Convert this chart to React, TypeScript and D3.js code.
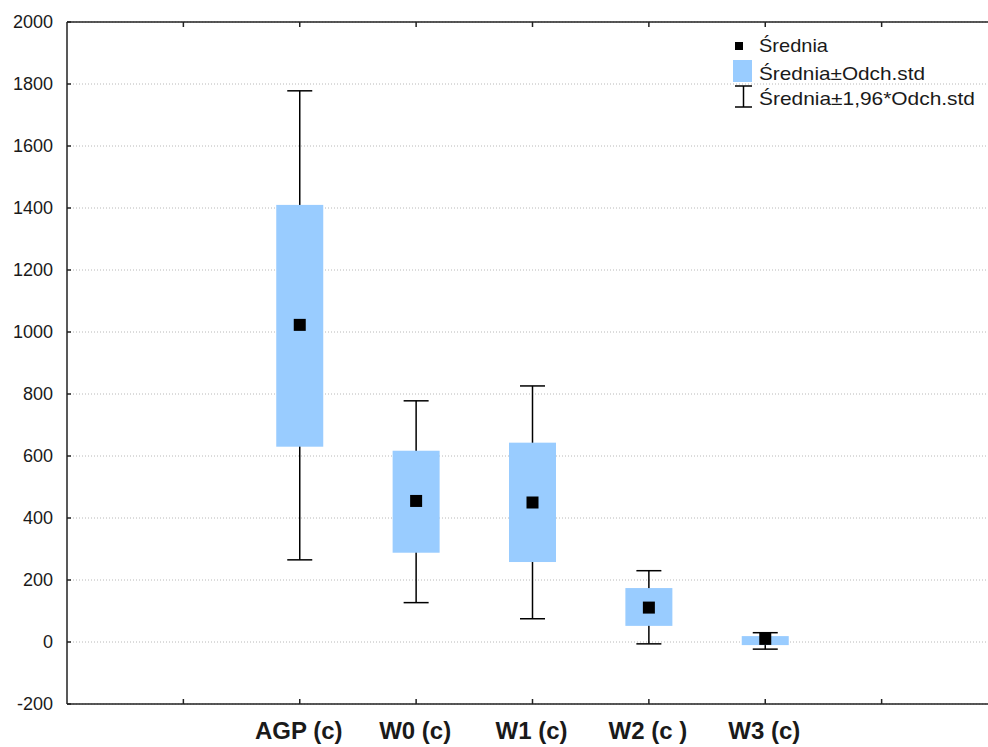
import React from 'react';
import * as d3 from 'd3';

// group labels and the statistics
const categories = ['AGP (c)', 'W0 (c)', 'W1 (c)', 'W2 (c )', 'W3 (c)'];
const means = [1023, 455, 450, 111, 10];
const sdLow = [630, 288, 258, 52, -10];
const sdHigh = [1410, 617, 643, 174, 19];
const ciLow = [265, 127, 75, -6, -23];
const ciHigh = [1778, 778, 826, 230, 30];
const yTicks = [-200, 0, 200, 400, 600, 800, 1000, 1200, 1400, 1600, 1800, 2000];
const xTickSlots = [1, 2, 3, 4, 5, 6, 7];
const legendLabels = ['Średnia', 'Średnia±Odch.std', 'Średnia±1,96*Odch.std'];
const legendWidths = [69, 166, 216];

const width = 988;
const height = 747;
const margin = { top: 22, right: -10, bottom: 43, left: 67 };
const font = '"Liberation Sans", Arial, sans-serif';

export default function App() {
  const x = d3.scaleLinear().domain([0, 8]).range([margin.left, width - margin.right]);
  const y = d3.scaleLinear().domain([-200, 2000]).range([height - margin.bottom, margin.top]);

  const boxW = 47;
  const capW = 25;
  const markSize = 12;
  const x0 = x(0);
  const x1 = x(8);
  const yTop = y(2000);
  const yBot = y(-200);

  return (
    <svg width={width} height={height} style={{ position: 'absolute', left: 0, top: 0, background: '#fff' }}
      fontFamily={font}>
      {/* grid */}
      {yTicks.map(t => (
        <line key={'g' + t} x1={x0} x2={x1} y1={y(t)} y2={y(t)} stroke="#b8b8b8" strokeWidth={1}
          strokeDasharray="1,2" />
      ))}

      {/* boxes and whiskers */}
      {categories.map((c, i) => {
        const cx = x(i + 2);
        return (
          <g key={c}>
            <line x1={cx} x2={cx} y1={y(ciHigh[i])} y2={y(ciLow[i])} stroke="#000" strokeWidth={1.5} />
            <line x1={cx - capW / 2} x2={cx + capW / 2} y1={y(ciHigh[i])} y2={y(ciHigh[i])} stroke="#000" strokeWidth={1.5} />
            <line x1={cx - capW / 2} x2={cx + capW / 2} y1={y(ciLow[i])} y2={y(ciLow[i])} stroke="#000" strokeWidth={1.5} />
            <rect x={cx - boxW / 2} width={boxW} y={y(sdHigh[i])} height={y(sdLow[i]) - y(sdHigh[i])} fill="#99ccff" />
            <rect x={cx - markSize / 2} y={y(means[i]) - markSize / 2} width={markSize} height={markSize} fill="#000" />
          </g>
        );
      })}

      {/* frame */}
      <line x1={x0} x2={x1} y1={yTop} y2={yTop} stroke="#222" strokeWidth={1.5} />
      <line x1={x0} x2={x1} y1={yBot} y2={yBot} stroke="#222" strokeWidth={1.5} />
      <line x1={x0} x2={x0} y1={yTop} y2={yBot} stroke="#222" strokeWidth={1.5} />

      {/* y axis */}
      {yTicks.map(t => (
        <g key={'y' + t}>
          <line x1={x0} x2={x0 + 4} y1={y(t)} y2={y(t)} stroke="#222" strokeWidth={1.5} />
          <text x={53} y={y(t)} dy="0.36em" textAnchor="end" fontSize={18} fill="#1a1a1a">{t}</text>
        </g>
      ))}

      {/* x ticks top and bottom */}
      {xTickSlots.map(s => (
        <g key={'x' + s}>
          <line x1={x(s)} x2={x(s)} y1={yBot} y2={yBot - 5} stroke="#222" strokeWidth={1.5} />
          <line x1={x(s)} x2={x(s)} y1={yTop} y2={yTop + 5} stroke="#222" strokeWidth={1.5} />
        </g>
      ))}
      {categories.map((c, i) => (
        <text key={'l' + c} x={x(i + 2) - 1} y={739} textAnchor="middle" fontSize={24} fontWeight="bold"
          fill="#1a1a1a">{c}</text>
      ))}

      {/* legend */}
      <g fontSize={19} fill="#1a1a1a">
        <rect x={735} y={42} width={8} height={8} fill="#000" />
        <rect x={733} y={60} width={19} height={22} fill="#99ccff" />
        <line x1={743.5} x2={743.5} y1={86} y2={107} stroke="#000" strokeWidth={1.5} />
        <line x1={735} x2={752} y1={86} y2={86} stroke="#000" strokeWidth={1.5} />
        <line x1={735} x2={752} y1={107} y2={107} stroke="#000" strokeWidth={1.5} />
        {legendLabels.map((l, i) => (
          <text key={l} x={759} y={[52, 80, 105][i]} textLength={legendWidths[i]}
            lengthAdjust="spacingAndGlyphs">{l}</text>
        ))}
      </g>
    </svg>
  );
}
